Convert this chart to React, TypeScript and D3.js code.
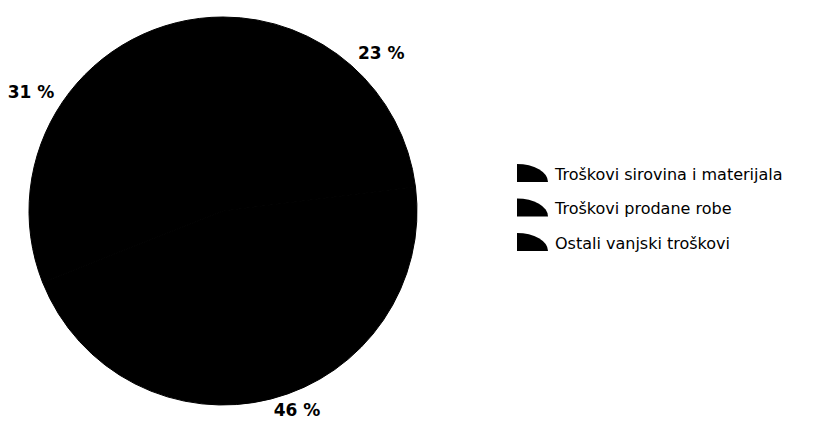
import React from "react";
import * as d3 from "d3";

const categories = ["Troškovi sirovina i materijala", "Troškovi prodane robe", "Ostali vanjski troškovi"];
const values = [23, 46, 31];
const labels = ["23 %", "46 %", "31 %"];

export default function App() {
  const W = 816, H = 421;
  const cx = 223, cy = 211, r = 194;
  const pie = d3.pie<number>().sort(null).value((d) => d);
  const arcs = pie(values);
  const arc = d3.arc<d3.PieArcDatum<number>>().innerRadius(0).outerRadius(r);
  const lr = r + 10;
  const legendY = d3.scalePoint<string>().domain(categories).range([173, 242]);
  const marker = d3.arc()({ innerRadius: 0, outerRadius: 1, startAngle: 0, endAngle: Math.PI / 2 }) as string;
  return (
    <svg width={W} height={H} style={{ position: "absolute", left: 0, top: 0, background: "#fff" }}>
      <g transform={`translate(${cx},${cy})`}>
        {arcs.map((a, i) => (
          <path key={i} d={arc(a) as string} fill="#000" stroke="#000" strokeWidth={1} />
        ))}
        {arcs.map((a, i) => {
          const m = (a.startAngle + a.endAngle) / 2;
          const s = Math.sin(m), c = Math.cos(m);
          const x = lr * s;
          const y = Math.min(-lr * c - c * 7, H - cy - 11);
          return (
            <text key={i} x={x} y={y} textAnchor={s >= 0 ? "start" : "end"} dominantBaseline="central"
              fontFamily="DejaVu Sans" fontWeight="bold" fontSize={17} fill="#000">{labels[i]}</text>
          );
        })}
      </g>
      {categories.map((c, i) => {
        const y = legendY(c) as number;
        return (
          <g key={c}>
            <path d={marker} transform={`translate(517,${y + 9}) scale(31,18)`} fill="#000" />
            <text x={555} y={y + 1} dominantBaseline="central" fontFamily="DejaVu Sans" fontSize={16} fill="#000">{c}</text>
          </g>
        );
      })}
    </svg>
  );
}
